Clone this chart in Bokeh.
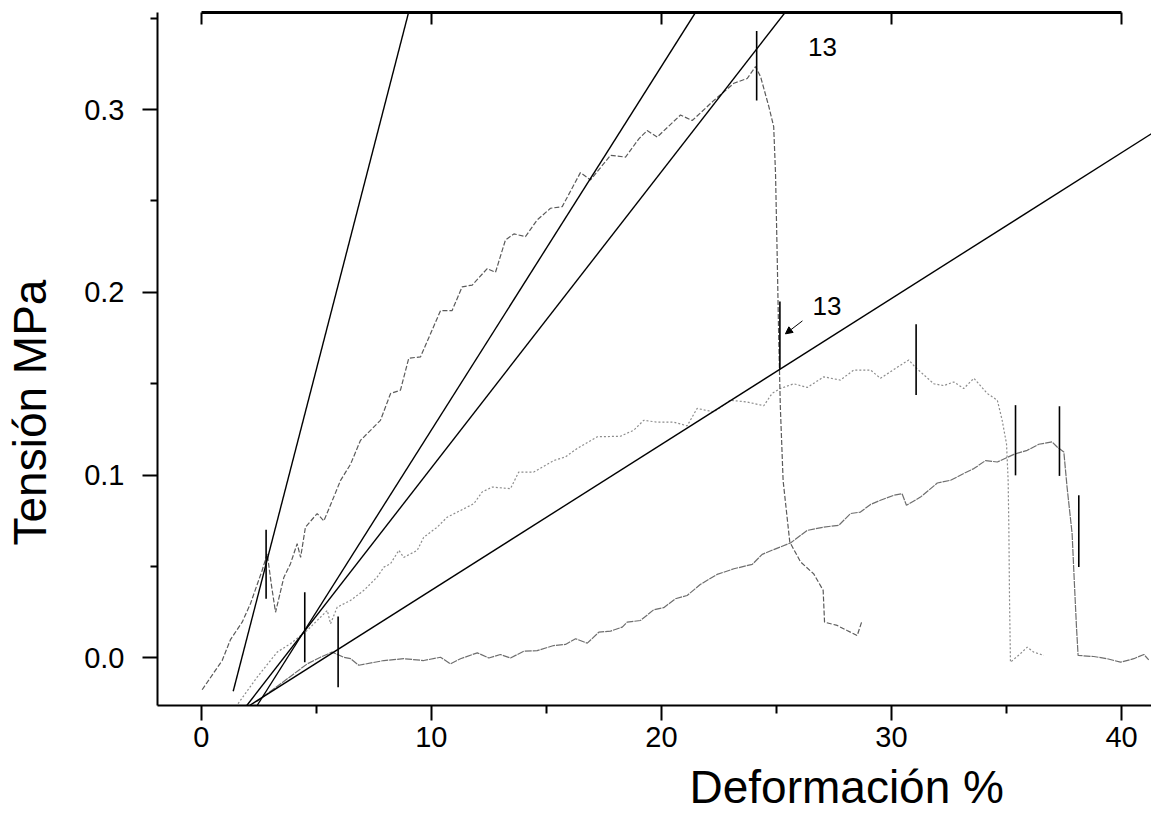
from bokeh.plotting import figure
from bokeh.models import (LinearAxis, FixedTicker, PrintfTickFormatter, Range1d,
                          Arrow, NormalHead, CustomLabelingPolicy, Title)
from bokeh.embed import file_html
from bokeh.resources import INLINE
from bokeh.core.properties import value

# ---------------- data ----------------
curve_a_x = [0.04, 0.91, 1.27, 1.78, 2.14, 2.65, 2.87, 3.05, 3.23, 3.59, 3.88, 4.17, 4.32, 4.53,
             5.04, 5.33, 5.76, 6.05, 6.49, 6.92, 7.79, 8.23, 8.66, 9.02, 9.53, 10.4, 10.9,
             11.34, 11.78, 12.43, 12.79, 13.22, 13.59, 14.09, 14.6, 15.18, 15.69, 16.48,
             16.92, 17.79, 18.44, 19.02, 19.38, 19.82, 20.83, 21.34, 22.28, 23.15, 23.73,
             24.09, 24.31, 24.67, 24.88, 24.96, 25.03, 25.1, 25.17, 25.29, 25.58, 26.05,
             26.62, 27.03, 27.09, 27.64, 28.07, 28.51, 28.7]
curve_a_y = [-0.0174, -0.0014, 0.010, 0.0196, 0.0297, 0.048, 0.057, 0.040, 0.025, 0.044, 0.0516,
             0.0625, 0.055, 0.0716, 0.079, 0.075, 0.088, 0.097, 0.106, 0.119, 0.130, 0.1447,
             0.1465, 0.164, 0.1647, 0.190, 0.190, 0.203, 0.204, 0.213, 0.211, 0.2286, 0.232,
             0.2305, 0.2396, 0.246, 0.2469, 0.2655, 0.2615, 0.275, 0.274, 0.284, 0.2885,
             0.285, 0.297, 0.294, 0.305, 0.3144, 0.317, 0.3235, 0.318, 0.3016, 0.2907, 0.265,
             0.2213, 0.174, 0.137, 0.097, 0.0634, 0.0525, 0.046, 0.037, 0.0196, 0.0178,
             0.015, 0.0123, 0.0196]

curve_b_x = [1.6, 2.43, 3.3, 3.88, 4.6, 5.04, 5.48, 5.62, 5.91, 6.49, 7.07, 7.65, 7.94, 8.23,
             8.59, 8.8, 9.39, 9.67, 10.26, 10.69, 11.85, 12.21, 12.65, 13.44, 13.8, 14.45,
             15.32, 15.83, 16.34, 17.21, 18.22, 18.8, 19.23, 19.82, 20.54, 21.12, 21.55,
             22.28, 23.0, 23.73, 24.45, 24.81, 25.17, 25.75, 26.34, 27.06, 27.78, 28.36,
             29.09, 29.52, 30.25, 30.75, 31.04, 31.84, 32.27, 32.71, 33.14, 33.58, 34.16,
             34.6, 34.81, 35.0, 35.07, 35.1, 35.13, 35.17, 35.6, 35.9, 36.18, 36.62]
curve_b_y = [-0.025, -0.0105, 0.0032, 0.0078, 0.015, 0.0205, 0.026, 0.0187, 0.0278, 0.0315,
             0.037, 0.0443, 0.0497, 0.0516, 0.0589, 0.055, 0.0589, 0.066, 0.0716, 0.077,
             0.0844, 0.0908, 0.0935, 0.0926, 0.1017, 0.1017, 0.108, 0.110, 0.1146, 0.121,
             0.1213, 0.1246, 0.130, 0.129, 0.129, 0.127, 0.1365, 0.1346, 0.141, 0.140, 0.138,
             0.1447, 0.1474, 0.150, 0.148, 0.1538, 0.152, 0.1575, 0.1575, 0.153, 0.159,
             0.163, 0.159, 0.150, 0.149, 0.151, 0.1474, 0.153, 0.1447, 0.141, 0.130, 0.117,
             0.097, 0.0716, 0.0315, -0.0023, 0.0023, 0.0059, 0.0032, 0.0014]

curve_c_x = [2.4, 3.74, 4.61, 5.18, 5.69, 6.2, 6.49, 6.85, 7.94, 8.8, 9.67, 10.4, 10.83, 11.27,
             12.0, 12.5, 13.0, 13.44, 14.02, 14.6, 15.32, 15.83, 16.27, 16.78, 17.28, 17.79,
             18.3, 18.51, 19.09, 19.67, 20.1, 20.61, 21.12, 21.7, 22.42, 23.15, 23.95, 24.38,
             24.88, 25.61, 26.34, 27.06, 27.71, 28.22, 28.65, 29.09, 29.52, 30.1, 30.46,
             30.65, 31.26, 31.99, 32.57, 33.14, 33.58, 34.09, 34.6, 35.32, 35.9, 36.4, 36.98,
             37.2, 37.49, 37.63, 37.85, 37.95, 38.04, 38.11, 38.79, 39.37, 39.95, 40.53,
             40.97, 41.18]
curve_c_y = [-0.024, -0.0114, -0.0032, 0.0004, 0.0032, 0.0004, -0.0004, -0.004, -0.0014,
             -0.0004, -0.0014, 0.0004, -0.0032, -0.0004, 0.0028, 0.0, 0.0019, 0.0, 0.0037,
             0.004, 0.0068, 0.0074, 0.0105, 0.0081, 0.0141, 0.0147, 0.0169, 0.0196, 0.0205,
             0.0264, 0.0275, 0.0324, 0.0342, 0.0403, 0.0457, 0.0488, 0.0512, 0.0567, 0.0593,
             0.0629, 0.0698, 0.0716, 0.0726, 0.079, 0.0798, 0.084, 0.0863, 0.089, 0.0899,
             0.0835, 0.088, 0.0957, 0.0972, 0.1009, 0.1036, 0.108, 0.1072, 0.1114, 0.1136,
             0.1169, 0.1182, 0.1154, 0.1127, 0.0935, 0.068, 0.0406, 0.0169, 0.0014, 0.0008,
             -0.0004, -0.0023, -0.0004, 0.0019, -0.001]

# tangent (fit) lines: start and end points
fit_x0 = [1.39, 2.43, 1.98, 2.10]
fit_y0 = [-0.0182, -0.026, -0.026, -0.026]
fit_x1 = [9.02, 21.50, 25.40, 41.70]
fit_y1 = [0.3535, 0.3535, 0.3535, 0.2900]

# short vertical marks
mark_x = [2.82, 4.50, 5.95, 24.14, 25.15, 31.07, 35.39, 37.30, 38.14]
mark_y0 = [0.0324, -0.0023, -0.016, 0.305, 0.158, 0.1438, 0.0999, 0.0996, 0.0497]
mark_y1 = [0.0702, 0.036, 0.0227, 0.343, 0.195, 0.1826, 0.1383, 0.1377, 0.089]

# hand-written notes
note_x = [27.0, 27.2]
note_y = [0.334, 0.1926]
note_text = ["13", "13"]

x_major = [0, 10, 20, 30, 40]
x_minor = [5, 15, 25, 35]
y_major = [0.0, 0.1, 0.2, 0.3]
y_minor = [-0.05, 0.05, 0.15, 0.25, 0.35]

x_title = "Deformación %"
y_title = "Tensión MPa"

FONT = "Liberation Sans"

p = figure(width=1151, height=813, output_backend="svg", toolbar_location=None,
           x_range=Range1d(-1.9, 41.3), y_range=Range1d(-0.026, 0.3531),
           min_border_left=157, min_border_right=0, min_border_top=12,
           min_border_bottom=108)
p.grid.visible = False
p.outline_line_color = None

# curves
p.line(curve_c_x, curve_c_y, line_color="#6e6e6e", line_width=1.2, line_dash="7 1")
p.line(curve_b_x, curve_b_y, line_color="#8c8c8c", line_width=1.2, line_dash="2 2")
p.line(curve_a_x, curve_a_y, line_color="#5a5a5a", line_width=1.2, line_dash="5 2")

# fitted lines
p.segment(x0=fit_x0, y0=fit_y0, x1=fit_x1, y1=fit_y1, line_color="black", line_width=1.4)

# vertical marks
p.segment(x0=mark_x, y0=mark_y0, x1=mark_x, y1=mark_y1, line_color="black", line_width=1.6)

# notes
p.text(x=note_x, y=note_y, text=note_text, text_font=value(FONT), text_font_size="26px",
       text_align="center", text_baseline="middle", text_color="black")
p.add_layout(Arrow(x_start=26.13, y_start=0.1844, x_end=25.39, y_end=0.1773,
                   line_width=1, line_color="black",
                   end=NormalHead(size=7, fill_color="black", line_color="black")))

# bottom axis
xa = p.xaxis[0]
xa.ticker = FixedTicker(ticks=x_major, minor_ticks=x_minor)
xa.axis_line_width = 2
xa.major_tick_line_width = 2
xa.minor_tick_line_width = 2
xa.major_tick_out = 15
xa.major_tick_in = 0
xa.minor_tick_out = 8
xa.minor_tick_in = 0
xa.major_label_text_font = FONT
xa.major_label_text_font_size = "29px"
xa.major_label_text_color = "black"
xa.major_label_standoff = 6

# left axis
ya = p.yaxis[0]
ya.ticker = FixedTicker(ticks=y_major, minor_ticks=y_minor)
ya.formatter = PrintfTickFormatter(format="%.1f")
ya.axis_line_width = 2
ya.major_tick_line_width = 2
ya.minor_tick_line_width = 2
ya.major_tick_out = 15
ya.major_tick_in = 0
ya.minor_tick_out = 7
ya.minor_tick_in = 0
ya.major_label_text_font = FONT
ya.major_label_text_font_size = "29px"
ya.major_label_text_color = "black"
ya.major_label_standoff = 18

# top axis (ticks only, no labels)
no_labels = CustomLabelingPolicy(code="""
for (const i of indices)
    indices.unset(i)
return indices
""")
top = LinearAxis(ticker=FixedTicker(ticks=x_major, minor_ticks=x_minor),
                 bounds=(0, 40), axis_line_width=3, major_tick_in=12, major_tick_out=0,
                 minor_tick_in=0, minor_tick_out=0, major_tick_line_width=2,
                 major_label_policy=no_labels, major_label_text_font_size="1px",
                 major_label_standoff=0)
p.add_layout(top, "above")

# invisible spacer panels (hidden ticks, no labels) that push the titles outward
def spacer(ticks, size):
    return LinearAxis(ticker=FixedTicker(ticks=ticks), axis_line_color=None,
                      major_tick_out=size, major_tick_in=0, minor_tick_out=0,
                      minor_tick_in=0, major_tick_line_color=None,
                      minor_tick_line_color=None, major_label_standoff=0,
                      major_label_policy=no_labels, major_label_text_font_size="1px")

p.add_layout(spacer(x_major, 5), "below")
p.add_layout(spacer(y_major, 20), "left")

# axis titles (placed off-centre, as in the original)
p.add_layout(Title(text=x_title, align="left", offset=532, vertical_align="bottom",
                   standoff=0, text_font=FONT, text_font_size="46px",
                   text_font_style="normal", text_color="black"), "below")
p.add_layout(Title(text=y_title, align="left", offset=160, vertical_align="top",
                   standoff=0, text_font=FONT, text_font_size="46px",
                   text_font_style="normal", text_color="black"), "left")

open("out.html", "w").write(file_html(p, INLINE))
